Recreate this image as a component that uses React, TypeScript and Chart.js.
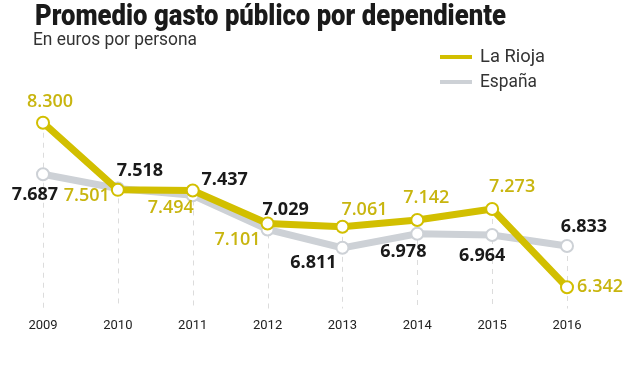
import { useEffect, useRef } from "react";
import { Chart, registerables } from "chart.js";

Chart.register(...registerables);

// ---- data ----
const years = ["2009", "2010", "2011", "2012", "2013", "2014", "2015", "2016"];
const laRioja = [8300, 7501, 7494, 7101, 7061, 7142, 7273, 6342];
const espana = [7687, 7518, 7437, 7029, 6811, 6978, 6964, 6833];
const seriesNames = ["La Rioja", "España"];
const titleText = "Promedio gasto público por dependiente";
const subtitleText = "En euros por persona";

// ---- styles ----
const YELLOW = "#d2bf00";
const YELLOW_TEXT = "#c8b50f";
const GREY = "#cdd1d6";
const DARK = "#1a1a1a";

// label offsets (dx, dy) relative to each point, text centre
const riojaLabelOffsets = [[7, -21], [-31, 6], [-22, 17], [-30, 16], [22, -17], [9, -22], [20, -22], [33, 0]];
const espanaLabelOffsets = [[-8, 21], [22, -18], [32, -15], [18, -20], [-29, 15], [-14, 18], [-10, 21], [17, -19]];

const fmt = (v: number) => {
  const s = String(Math.round(v));
  return s.replace(/\B(?=(\d{3})+(?!\d))/g, ".");
};

function drawFitText(
  ctx: CanvasRenderingContext2D,
  text: string,
  x: number,
  y: number,
  font: string,
  color: string,
  targetWidth: number,
  align: CanvasTextAlign = "left",
  baseline: CanvasTextBaseline = "alphabetic"
) {
  ctx.save();
  ctx.font = font;
  ctx.fillStyle = color;
  ctx.textBaseline = baseline;
  ctx.textAlign = "left";
  const w = ctx.measureText(text).width;
  const s = targetWidth / w;
  let left = x;
  if (align === "center") left = x - targetWidth / 2;
  else if (align === "right") left = x - targetWidth;
  ctx.translate(left, y);
  ctx.scale(s, 1);
  ctx.fillText(text, 0, 0);
  ctx.restore();
}

const decorPlugin = {
  id: "decor",
  beforeDatasetsDraw(chart: any) {
    const ctx = chart.ctx as CanvasRenderingContext2D;
    const area = chart.chartArea;
    const m0 = chart.getDatasetMeta(0).data;
    const m1 = chart.getDatasetMeta(1).data;
    ctx.save();
    ctx.strokeStyle = "#dcdcdc";
    ctx.lineWidth = 1;
    ctx.setLineDash([5, 5]);
    for (let i = 0; i < m0.length; i++) {
      const x = Math.round(m0[i].x) + 0.5;
      const top = Math.min(m0[i].y, m1[i].y);
      ctx.beginPath();
      ctx.moveTo(x, top);
      ctx.lineTo(x, area.bottom);
      ctx.stroke();
    }
    ctx.restore();
  },
  afterDraw(chart: any) {
    const ctx = chart.ctx as CanvasRenderingContext2D;
    // title + subtitle
    drawFitText(ctx, titleText, 35, 25, "900 29px Roboto", DARK, 471);
    drawFitText(ctx, subtitleText, 33, 45, "18px Roboto", "#333", 164);
    // legend
    const legendCols = [YELLOW, GREY];
    const legendW = [65, 57];
    const legendY = [57, 82];
    for (let i = 0; i < seriesNames.length; i++) {
      ctx.save();
      ctx.strokeStyle = legendCols[i];
      ctx.lineWidth = 4;
      ctx.beginPath();
      ctx.moveTo(440, legendY[i]);
      ctx.lineTo(472, legendY[i]);
      ctx.stroke();
      ctx.restore();
      drawFitText(ctx, seriesNames[i], 480, legendY[i], "18px Roboto", "#333", legendW[i], "left", "middle");
    }
    // value labels
    const sets = [
      { meta: chart.getDatasetMeta(0).data, vals: laRioja, off: riojaLabelOffsets, col: YELLOW_TEXT, font: "600 18px 'Open Sans'" },
      { meta: chart.getDatasetMeta(1).data, vals: espana, off: espanaLabelOffsets, col: DARK, font: "bold 18px 'Open Sans'" },
    ];
    ctx.save();
    ctx.textAlign = "center";
    ctx.textBaseline = "middle";
    for (const s of sets) {
      ctx.fillStyle = s.col;
      ctx.font = s.font;
      for (let i = 0; i < s.vals.length; i++) {
        const p = s.meta[i];
        ctx.fillText(fmt(s.vals[i]), p.x + s.off[i][0], p.y + s.off[i][1]);
      }
    }
    ctx.restore();
  },
};

export default function App() {
  const ref = useRef<HTMLCanvasElement | null>(null);
  useEffect(() => {
    if (!ref.current) return;
    const chart = new Chart(ref.current, {
      type: "line",
      data: {
        labels: years,
        datasets: [
          {
            label: seriesNames[0],
            data: laRioja,
            borderColor: YELLOW,
            borderWidth: 7,
            pointRadius: 6,
            pointBorderWidth: 2,
            pointBackgroundColor: "#ffffff",
            pointBorderColor: YELLOW,
            tension: 0,
            clip: false as any,
          },
          {
            label: seriesNames[1],
            data: espana,
            borderColor: GREY,
            borderWidth: 7,
            pointRadius: 6,
            pointBorderWidth: 2,
            pointBackgroundColor: "#ffffff",
            pointBorderColor: GREY,
            tension: 0,
            clip: false as any,
          },
        ],
      },
      options: {
        responsive: false,
        animation: false,
        layout: { padding: { top: 95, left: 43, right: 57, bottom: 41 } },
        plugins: { legend: { display: false }, tooltip: { enabled: false }, title: { display: false } },
        scales: {
          x: {
            offset: false,
            grid: { display: false, drawTicks: false },
            border: { display: false },
            ticks: { color: "#222", font: { family: "Roboto", size: 13 }, padding: 10, maxRotation: 0 },
          },
          y: { display: false, min: 6090, max: 8630 },
        },
      },
      plugins: [decorPlugin],
    });
    return () => chart.destroy();
  }, []);
  return (
    <div style={{ position: "absolute", left: 0, top: 0, width: 624, height: 385, background: "#fff" }}>
      <canvas ref={ref} width={624} height={385} style={{ display: "block" }} />
    </div>
  );
}
